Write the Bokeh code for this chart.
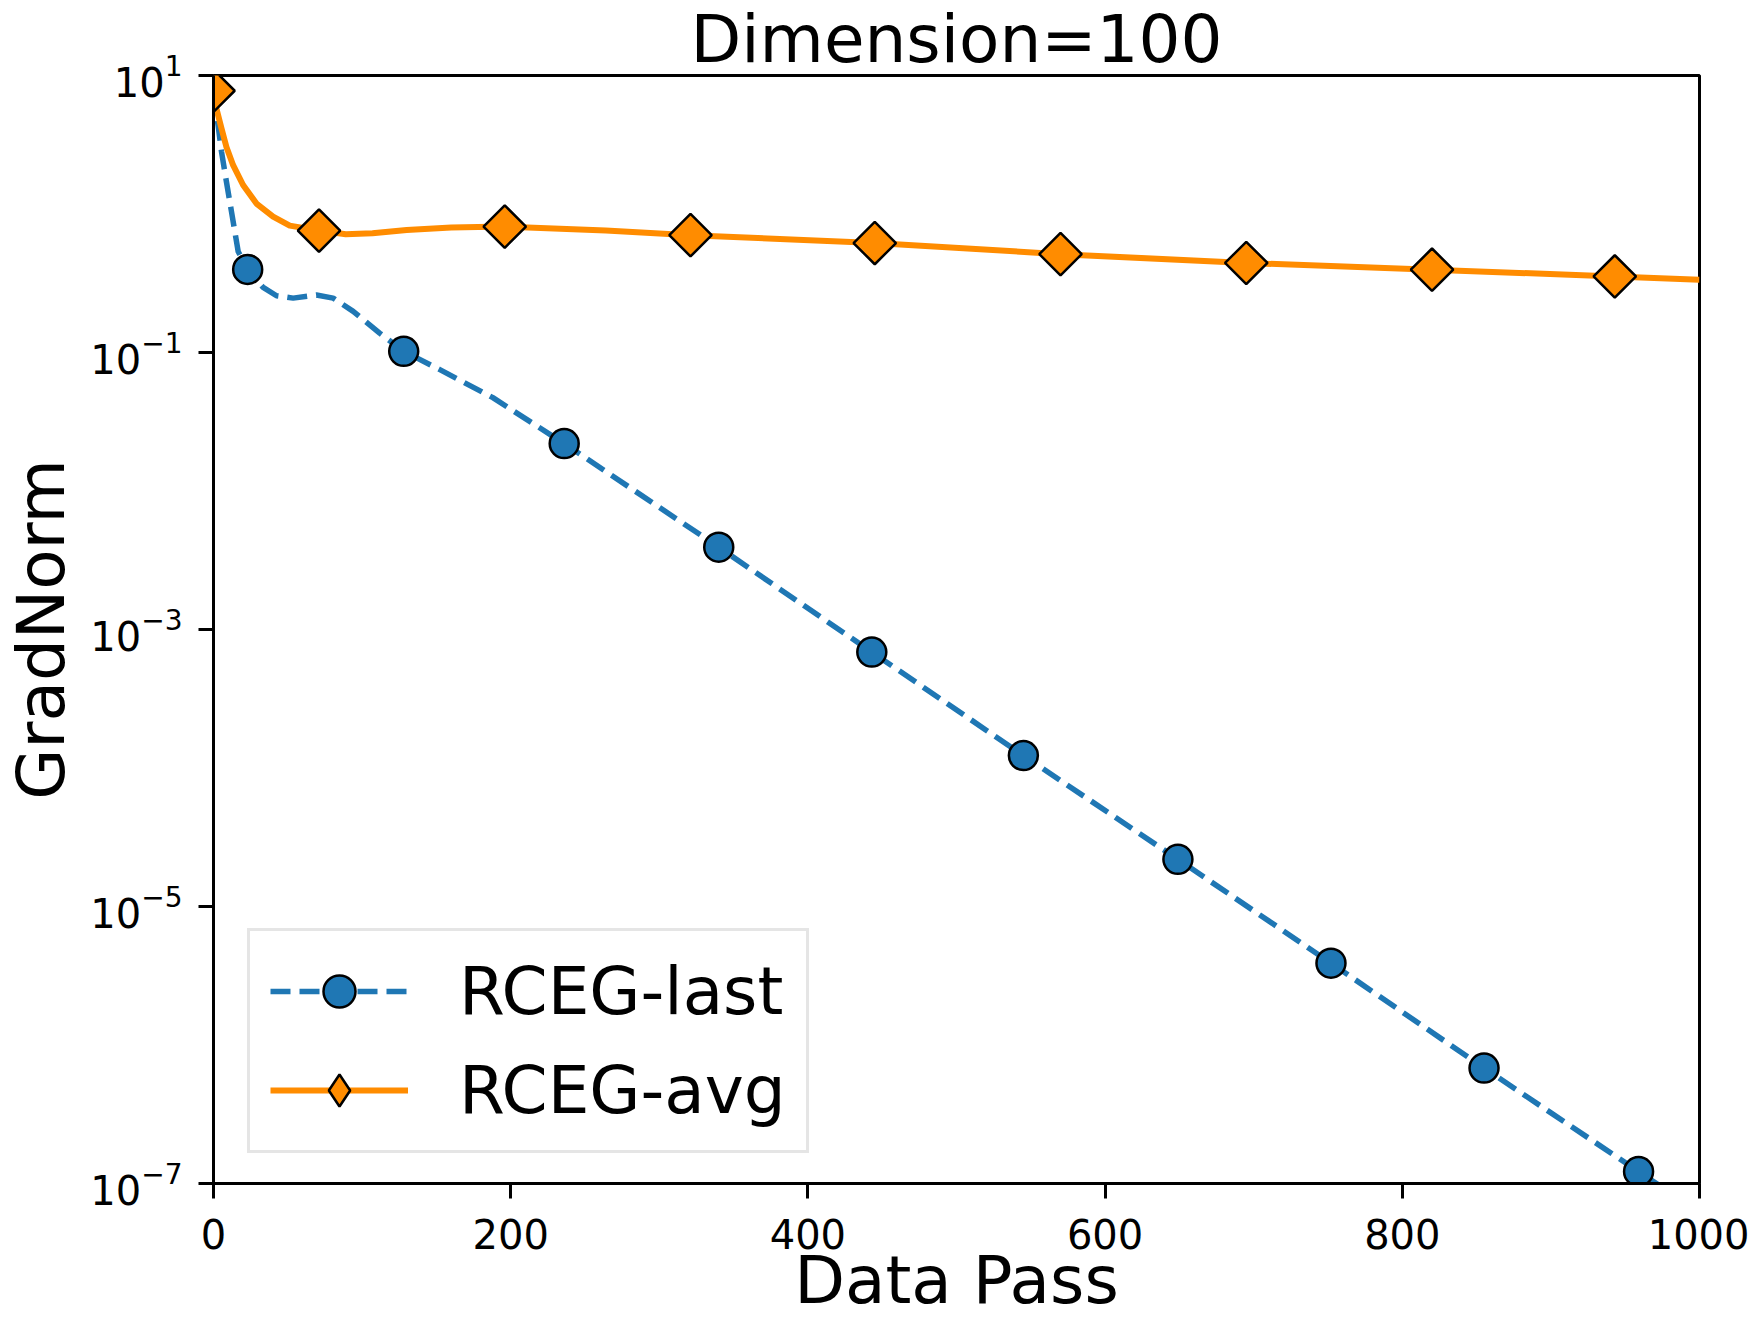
import numpy as np
from bokeh.plotting import figure
from bokeh.models import Range1d, FixedTicker, Legend, LegendItem, LogTickFormatter
from bokeh.embed import file_html
from bokeh.resources import INLINE

# RCEG-last: gradient norm of the last iterate per data pass
last_x = [0, 3.1, 5.4, 8.7, 12.1, 16.6, 23, 33.4, 42.4, 53.6, 69.3, 80.5, 94, 111.8,
          128, 152, 188, 236, 340, 443, 545, 649, 752, 855, 959, 1000]
last_y = [7.59, 4.37, 2.81, 1.71, 1.04, 0.536, 0.398, 0.295, 0.257, 0.247, 0.260, 0.247,
          0.198, 0.138, 0.102, 0.0755, 0.0472, 0.0220, 3.93e-3, 6.87e-4, 1.23e-4,
          2.19e-5, 3.90e-6, 6.82e-7, 1.22e-7, 6.2e-8]
last_marks = [6, 14, 17, 18, 19, 20, 21, 22, 23, 24]

# RCEG-avg: gradient norm of the averaged iterate per data pass
avg_x = [0, 2.0, 5.4, 8.7, 13.2, 19.9, 28.9, 40.1, 51.3, 71, 89, 107, 130, 160, 196,
         264, 321, 445, 570, 695, 820, 943, 1000]
avg_y = [7.76, 5.75, 4.14, 3.05, 2.25, 1.62, 1.19, 0.957, 0.824, 0.759, 0.714, 0.726,
         0.767, 0.798, 0.811, 0.759, 0.703, 0.617, 0.513, 0.443, 0.396, 0.354, 0.335]
avg_marks = [0, 9, 14, 16, 17, 18, 19, 20, 21]

x_ticks = [0, 200, 400, 600, 800, 1000]
y_ticks = [1e1, 1e-1, 1e-3, 1e-5, 1e-7]

BLUE = "#1f77b4"
ORANGE = "#ff8c00"
FONT = "DejaVu Sans"

p = figure(width=1749, height=1322, x_range=Range1d(0, 1000), y_range=Range1d(1e-7, 10),
           y_axis_type="log", output_backend="svg", toolbar_location=None,
           min_border_left=212, min_border_right=50, min_border_top=75, min_border_bottom=139)

p.title.text = "Dimension=100"
p.title.align = "center"
p.title.text_font = FONT
p.title.text_font_size = "66px"
p.title.text_font_style = "normal"
p.title.text_color = "black"
p.title.standoff = -5

p.xgrid.visible = False
p.ygrid.visible = False
p.outline_line_color = "black"
p.outline_line_width = 3
p.background_fill_color = "white"
p.border_fill_color = "white"

p.xaxis.ticker = FixedTicker(ticks=x_ticks, minor_ticks=[])
p.yaxis.ticker = FixedTicker(ticks=y_ticks, minor_ticks=[])
p.yaxis.formatter = LogTickFormatter()

for ax in (p.xaxis, p.yaxis):
    ax.axis_line_color = "black"
    ax.axis_line_width = 3
    ax.major_tick_line_color = "black"
    ax.major_tick_line_width = 3
    ax.major_tick_out = 15
    ax.major_tick_in = 0
    ax.minor_tick_out = 0
    ax.minor_tick_in = 0
    ax.major_label_text_font = FONT
    ax.major_label_text_font_size = "40px"
    ax.major_label_text_color = "black"
    ax.axis_label_text_font = FONT
    ax.axis_label_text_font_size = "66px"
    ax.axis_label_text_font_style = "normal"
    ax.axis_label_text_color = "black"

p.xaxis.axis_label = "Data Pass"
p.yaxis.axis_label = "GradNorm"
p.xaxis.major_label_standoff = 20
p.xaxis.axis_label_standoff = -10
p.yaxis.major_label_standoff = 16
p.yaxis.axis_label_standoff = 7

# RCEG-last
l1 = p.line(last_x, last_y, line_color=BLUE, line_width=5.5, line_dash="20 9",
            line_join="round")
m1 = p.scatter([last_x[i] for i in last_marks], [last_y[i] for i in last_marks],
               marker="circle", size=29, fill_color=BLUE, line_color="black", line_width=2.5)

# RCEG-avg
l2 = p.line(avg_x, avg_y, line_color=ORANGE, line_width=6, line_join="round")
key2 = p.scatter([avg_x[0]], [avg_y[0]], marker="diamond", size=30,
                 fill_color=ORANGE, line_color="black", line_width=2.5)
m2 = p.scatter([avg_x[i] for i in avg_marks], [avg_y[i] for i in avg_marks],
               marker="square", angle=np.pi / 4, size=30,
               fill_color=ORANGE, line_color="black", line_width=2.5)

legend = Legend(items=[LegendItem(label="RCEG-last", renderers=[l1, m1]),
                       LegendItem(label="RCEG-avg", renderers=[l2, key2])],
                location=(34, 30))
legend.label_text_font = FONT
legend.label_text_font_size = "66px"
legend.label_text_color = "black"
legend.glyph_width = 138
legend.glyph_height = 80
legend.label_standoff = 51
legend.padding = 20
legend.spacing = 19
legend.margin = 0
legend.border_line_color = "#cccccc"
legend.border_line_width = 3
legend.background_fill_color = "white"
legend.background_fill_alpha = 0.8
p.add_layout(legend)

open("out.html", "w").write(file_html(p, INLINE))
